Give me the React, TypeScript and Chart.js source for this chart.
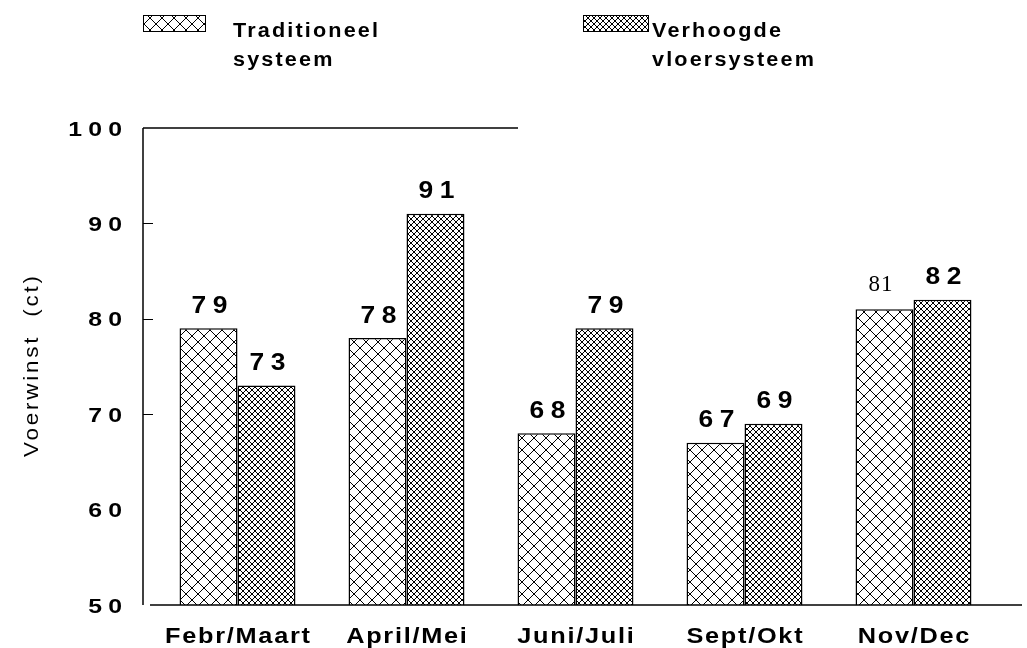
import React, { useEffect, useRef } from "react";
import { Chart, registerables } from "chart.js";

Chart.register(...registerables);

const categories = ["Febr/Maart", "April/Mei", "Juni/Juli", "Sept/Okt", "Nov/Dec"];
const traditioneel = [79, 78, 68, 67, 81];
const verhoogde = [73, 91, 79, 69, 82];
const legendTrad = ["Traditioneel", "systeem"];
const legendVerh = ["Verhoogde", "vloersysteem"];
const yTickValues = [50, 60, 70, 80, 90, 100];
const yTitle = "Voerwinst  (ct)";

function makeHatch(ctx: CanvasRenderingContext2D, period: number, lw: number) {
  const c = document.createElement("canvas");
  c.width = period;
  c.height = period;
  const g = c.getContext("2d")!;
  g.fillStyle = "#ffffff";
  g.fillRect(0, 0, period, period);
  g.strokeStyle = "#000000";
  g.lineWidth = lw;
  g.beginPath();
  g.moveTo(-1, -1);
  g.lineTo(period + 1, period + 1);
  g.moveTo(period + 1, -1);
  g.lineTo(-1, period + 1);
  g.stroke();
  return ctx.createPattern(c, "repeat")!;
}

function spacedText(
  ctx: CanvasRenderingContext2D,
  text: string,
  x: number,
  y: number,
  align: "left" | "center" | "right",
  spacing: number,
  stretch = 1
) {
  ctx.save();
  (ctx as any).letterSpacing = spacing + "px";
  ctx.textAlign = "left";
  const w = ctx.measureText(text).width - spacing;
  ctx.translate(x, y);
  ctx.scale(stretch, 1);
  let sx = 0;
  if (align === "center") sx = -w / 2;
  if (align === "right") sx = -w;
  ctx.fillText(text, sx, 0);
  ctx.restore();
}

export default function App() {
  const ref = useRef<HTMLCanvasElement>(null);

  useEffect(() => {
    const canvas = ref.current!;
    const ctx = canvas.getContext("2d")!;
    const patTrad = makeHatch(ctx, 12, 1);
    const patVerh = makeHatch(ctx, 6, 1);

    const overlay = {
      id: "overlay",
      afterDraw(chart: any) {
        const c: CanvasRenderingContext2D = chart.ctx;
        const area = chart.chartArea;
        const xs = chart.scales.x;
        const ys = chart.scales.y;
        const axisX = area.left - 10;
        c.save();
        c.strokeStyle = "#000";
        c.fillStyle = "#000";
        c.textBaseline = "middle";

        // y axis line
        c.lineWidth = 1.5;
        c.beginPath();
        c.moveTo(axisX, ys.getPixelForValue(100));
        c.lineTo(axisX, ys.getPixelForValue(50));
        c.stroke();
        // partial top border
        c.beginPath();
        c.moveTo(axisX, ys.getPixelForValue(100));
        c.lineTo(area.left + 365, ys.getPixelForValue(100));
        c.stroke();
        // bottom axis line
        c.beginPath();
        c.moveTo(axisX + 7, ys.getPixelForValue(50));
        c.lineTo(area.right + 24, ys.getPixelForValue(50));
        c.stroke();
        // inner ticks
        c.lineWidth = 1;
        [70, 80, 90].forEach((v) => {
          const y = Math.round(ys.getPixelForValue(v)) + 0.5;
          c.beginPath();
          c.moveTo(axisX, y);
          c.lineTo(axisX + 10, y);
          c.stroke();
        });

        // y tick labels
        c.font = "bold 20px 'Liberation Sans', Arial, sans-serif";
        yTickValues.forEach((v) => {
          spacedText(c, String(v), 122, ys.getPixelForValue(v) + 2, "right", 5, 1.24);
        });

        // y title
        c.save();
        c.translate(32, (ys.getPixelForValue(100) + ys.getPixelForValue(50)) / 2);
        c.rotate(-Math.PI / 2);
        c.font = "20px 'Liberation Sans', Arial, sans-serif";
        spacedText(c, yTitle, 0, 0, "center", 2.5, 1.12);
        c.restore();

        // x labels
        c.font = "bold 22px 'Liberation Sans', Arial, sans-serif";
        categories.forEach((lab, i) => {
          spacedText(c, lab, xs.getPixelForTick(i), 637, "center", 1.5, 1.15);
        });

        // data labels
        chart.data.datasets.forEach((ds: any, di: number) => {
          const meta = chart.getDatasetMeta(di);
          meta.data.forEach((bar: any, i: number) => {
            const v = ds.data[i];
            const serif = di === 0 && i === 4;
            if (serif) {
              c.font = "23px 'Liberation Serif', 'Times New Roman', serif";
              spacedText(c, String(v), bar.x - 4, bar.y - 24, "center", 1);
            } else {
              c.font = "bold 24px 'Liberation Sans', Arial, sans-serif";
              spacedText(c, String(v), bar.x + 1, bar.y - 22, "center", 6, 1.1);
            }
          });
        });

        // legend
        const legendItems = [
          { box: [143, 15, 62, 16], pat: patTrad, lines: legendTrad, tx: 233 },
          { box: [583, 15, 65, 16], pat: patVerh, lines: legendVerh, tx: 652 },
        ];
        legendItems.forEach((it) => {
          const [bx, by, bw, bh] = it.box;
          c.fillStyle = it.pat;
          c.fillRect(bx, by, bw, bh);
          c.lineWidth = 1;
          c.strokeStyle = "#000";
          c.strokeRect(bx + 0.5, by + 0.5, bw, bh);
          c.fillStyle = "#000";
          c.font = "bold 20px 'Liberation Sans', Arial, sans-serif";
          spacedText(c, it.lines[0], it.tx, 31, "left", 2, 1.08);
          spacedText(c, it.lines[1], it.tx, 60, "left", 2, 1.08);
        });
        c.restore();
      },
    };

    const chart = new Chart(canvas, {
      type: "bar",
      data: {
        labels: categories,
        datasets: [
          {
            label: legendTrad.join(" "),
            data: traditioneel,
            backgroundColor: patTrad as any,
            borderColor: "#000",
            borderWidth: 1.5,
            borderSkipped: "bottom",
          },
          {
            label: legendVerh.join(" "),
            data: verhoogde,
            backgroundColor: patVerh as any,
            borderColor: "#000",
            borderWidth: 1.5,
            borderSkipped: "bottom",
          },
        ],
      },
      options: {
        responsive: false,
        animation: false,
        devicePixelRatio: 1,
        layout: { padding: { left: 153, right: 29, top: 128, bottom: 0 } },
        datasets: { bar: { barPercentage: 1, categoryPercentage: 0.686 } },
        plugins: { legend: { display: false }, tooltip: { enabled: false } },
        scales: {
          x: {
            grid: { display: false },
            border: { display: false },
            ticks: { display: false },
            afterFit: (s: any) => {
              s.height = 43;
            },
          },
          y: {
            min: 50,
            max: 100,
            ticks: { display: false, stepSize: 10 },
            grid: { display: false },
            border: { display: false },
            afterFit: (s: any) => {
              s.width = 0;
            },
          },
        },
      },
      plugins: [overlay],
    });
    return () => chart.destroy();
  }, []);

  return (
    <div style={{ position: "fixed", left: 0, top: 0, width: 1027, height: 648, background: "#fff" }}>
      <canvas ref={ref} width={1027} height={648} style={{ display: "block" }} />
    </div>
  );
}
